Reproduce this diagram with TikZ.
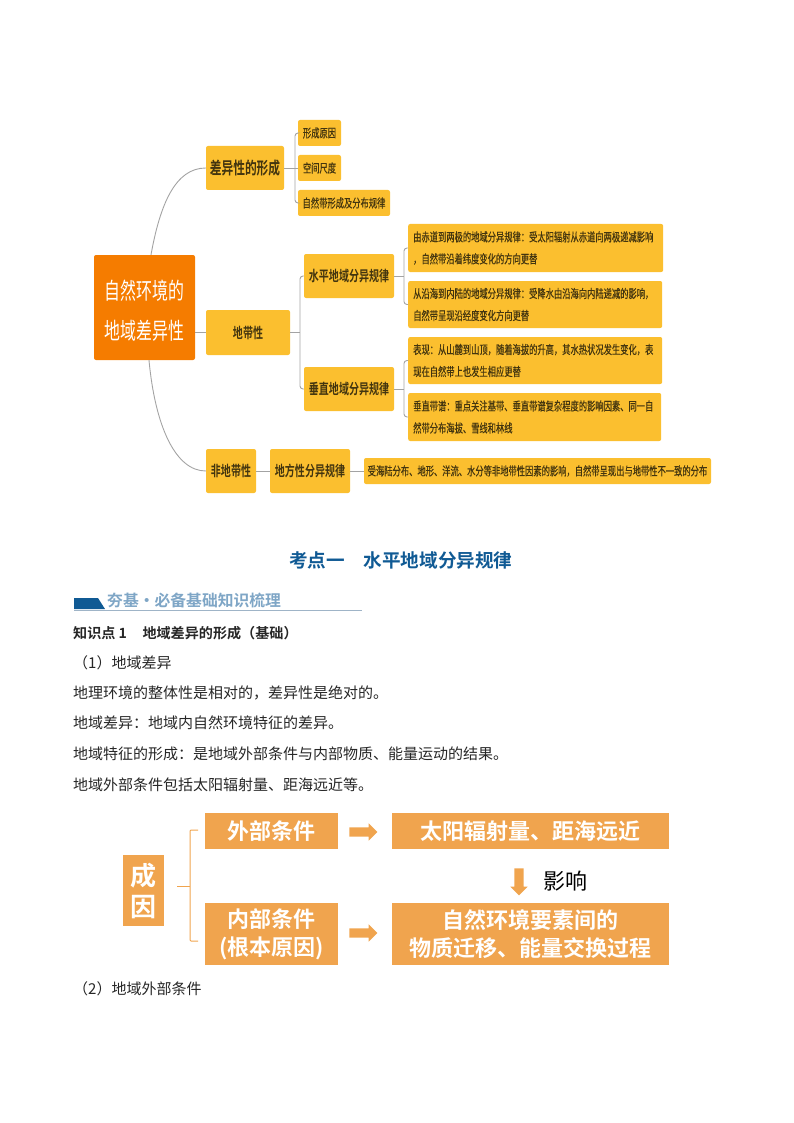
\documentclass[tikz,border=0pt]{standalone}
\usepackage{xcolor}
\usepackage{fontspec}
\usetikzlibrary{shapes.arrows}
\setmainfont{Noto Sans CJK SC}
\newfontfamily\mapfont[FakeStretch=0.69,FakeBold=0.45]{Noto Sans CJK SC}
\newfontfamily\mapbold[FakeStretch=0.69]{Noto Sans CJK SC Bold}
\newfontfamily\rootfont[FakeStretch=0.69]{Noto Sans CJK SC}
\newfontfamily\headfont{Noto Sans CJK SC Bold}
\definecolor{mapyellow}{HTML}{FBBF2F}
\definecolor{maproot}{HTML}{F57C00}
\definecolor{mapink}{HTML}{43350F}
\definecolor{linkgray}{HTML}{A3A3A3}
\definecolor{flowbox}{HTML}{F0A44E}
\definecolor{titleblue}{HTML}{105A94}
\definecolor{bannerblue}{HTML}{7FA6C6}
\definecolor{bannerline}{HTML}{9FB4C7}
\tikzset{
    mapbox/.style={fill=mapyellow, rounded corners=2pt, text=mapink, inner sep=0pt, align=center},
    bigbox/.style={mapbox, font=\mapbold\fontsize{14.5}{16}\selectfont},
    smallbox/.style={mapbox, font=\mapfont\fontsize{12}{22}\selectfont},
    textbox/.style={smallbox, anchor=west, align=left, text width=#1},
    link/.style={draw=linkgray, line width=0.9pt},
    bodyline/.style={anchor=west, inner sep=0pt, font=\fontsize{15}{16}\selectfont, text=black!85},
    flowtext/.style={fill=flowbox, text=white, inner sep=0pt, align=center, font=\headfont\fontsize{22}{28}\selectfont},
    flowarrow/.style={single arrow, fill=flowbox, inner sep=4.5pt, single arrow head extend=4pt, single arrow head indent=0pt},
    flowlink/.style={draw=flowbox, line width=1pt, rounded corners=1pt}
}
\begin{document}
\begin{tikzpicture}[x=1pt, y=-1pt]
    \useasboundingbox (0,0) rectangle (794,1123);

    \node[mapbox, fill=maproot, text=white, minimum width=101pt, minimum height=105pt, font=\rootfont\fontsize{23}{40}\selectfont] (root) at (144.5,307.5) {\rule{0pt}{25pt}自然环境的\\地域差异性};

    \node[bigbox, minimum width=78pt, minimum height=44pt, font=\mapbold\fontsize{17}{19}\selectfont] (diff) at (245,168) {差异性的形成};
    \node[smallbox, minimum width=43pt, minimum height=26pt] (cause) at (319.5,133) {形成原因};
    \node[smallbox, minimum width=43pt, minimum height=26pt] (scale) at (319.5,168) {空间尺度};
    \node[smallbox, minimum width=92pt, minimum height=26pt] (zone) at (344,203) {自然带形成及分布规律};

    \node[bigbox, minimum width=84pt, minimum height=45pt] (belt) at (248,332.5) {地带性};
    \node[bigbox, minimum width=90pt, minimum height=44pt] (horiz) at (349,276) {水平地域分异规律};
    \node[bigbox, minimum width=90pt, minimum height=44pt] (vert) at (349,389) {垂直地域分异规律};

    \node[textbox=245pt, minimum height=48pt, inner xsep=5pt] (lat) at (408,248) {由赤道到两极的地域分异规律：受太阳辐射从赤道向两极递减影响\\，自然带沿着纬度变化的方向更替};
    \node[textbox=244pt, minimum height=47pt, inner xsep=5pt] (lon) at (408,304.5) {从沿海到内陆的地域分异规律：受降水由沿海向内陆递减的影响，\\自然带呈现沿经度变化方向更替};
    \node[textbox=244pt, minimum height=47pt, inner xsep=5pt] (show) at (408,360.5) {表现：从山麓到山顶，随着海拔的升高，其水热状况发生变化，表\\现在自然带上也发生相应更替};
    \node[textbox=243pt, minimum height=48pt, inner xsep=5pt] (spec) at (408,417) {垂直带谱：重点关注基带、垂直带谱复杂程度的影响因素、同一自\\然带分布海拔、雪线和林线};

    \node[bigbox, minimum width=50pt, minimum height=44pt] (nonbelt) at (231,471) {非地带性};
    \node[bigbox, minimum width=80pt, minimum height=44pt] (local) at (310,471) {地方性分异规律};
    \node[smallbox, minimum width=347pt, minimum height=26pt] (far) at (537.5,471) {受海陆分布、地形、洋流、水分等非地带性因素的影响，自然带呈现出与地带性不一致的分布};

    \coordinate (jdiff) at (295,168);
    \coordinate (jbelt) at (300,332.5);
    \coordinate (jhoriz) at (404,276);
    \coordinate (jvert) at (404,389);

    \draw[link] ([xshift=6.5pt]root.north) .. controls (160,205) and (175,168) .. (diff.west);
    \draw[link] ([xshift=4.5pt]root.south) .. controls (155,425) and (175,471) .. (nonbelt.west);
    \draw[link] (root.east |- belt.west) -- (belt.west);
    \draw[link] (diff.east) -- (scale.west);
    \draw[link, rounded corners=3pt] (cause.west) -| (jdiff) |- (zone.west);
    \draw[link] (belt.east) -- (jbelt);
    \draw[link, rounded corners=3pt] (horiz.west) -| (jbelt) |- (vert.west);
    \draw[link] (horiz.east) -- (jhoriz);
    \draw[link, rounded corners=3pt] (lat.west) -| (jhoriz) |- (lon.west);
    \draw[link] (vert.east) -- (jvert);
    \draw[link, rounded corners=3pt] (show.west) -| (jvert) |- (spec.west);
    \draw[link] (nonbelt.east) -- (local.west);
    \draw[link] (local.east) -- (far.west);

    \node[anchor=west, inner sep=0pt, text=titleblue, font=\headfont\fontsize{18.6}{20}\selectfont] (title) at (289,560) {考点一\hspace{1em}水平地域分异规律};
    \fill[titleblue] (74,598) -- (98,598) -- (105,609) -- (74,609) -- cycle;
    \draw[bannerline, line width=0.8pt] (74,610) -- (362,610);
    \node[anchor=west, inner sep=0pt, text=bannerblue, font=\headfont\fontsize{15.8}{18}\selectfont] (banner) at (107,600) {夯基·必备基础知识梳理};

    \node[bodyline, font=\headfont\fontsize{14.1}{16}\selectfont] (point) at (73,633) {知识点 1\hspace{1.1em}地域差异的形成（基础）};
    \node[bodyline] (lineA) at (73,663) {（1）地域差异};
    \node[bodyline] (lineB) at (73,693) {地理环境的整体性是相对的，差异性是绝对的。};
    \node[bodyline] (lineC) at (73,723) {地域差异：地域内自然环境特征的差异。};
    \node[bodyline] (lineD) at (73,754) {地域特征的形成：是地域外部条件与内部物质、能量运动的结果。};
    \node[bodyline] (lineE) at (73,785) {地域外部条件包括太阳辐射量、距海远近等。};
    \node[bodyline] (lineF) at (73,989) {（2）地域外部条件};

    \node[flowtext, minimum width=41pt, minimum height=71pt, font=\headfont\fontsize{26}{31}\selectfont] (reason) at (143.5,890.5) {成\\因};
    \node[flowtext, minimum width=133pt, minimum height=36pt] (outer) at (271.5,831) {外部条件};
    \node[flowtext, minimum width=133pt, minimum height=62pt] (inner) at (271.5,934) {内部条件\\(根本原因)};
    \node[flowtext, minimum width=277pt, minimum height=36pt] (sun) at (530.5,831) {太阳辐射量、距海远近};
    \node[flowtext, minimum width=277pt, minimum height=62pt] (proc) at (530.5,934) {自然环境要素间的\\物质迁移、能量交换过程};

    \node[flowarrow, minimum height=28pt] (arrowA) at (361,832) {};
    \node[flowarrow, minimum height=28pt] (arrowB) at (361,933) {};
    \node[flowarrow, minimum height=27pt, shape border rotate=270] (arrowC) at (519,879.5) {};
    \node[anchor=west, inner sep=0pt, text=black, font=\fontsize{22}{24}\selectfont] (effect) at (543,881) {影响};

    \coordinate (brace) at (177,886);
    \coordinate (braceMid) at (190,886);
    \coordinate (braceTop) at (198,830);
    \coordinate (braceLow) at (198,941);
    \draw[flowlink] (brace) -- (braceMid);
    \draw[flowlink] (braceTop) -| (braceMid) |- (braceLow);
\end{tikzpicture}
\end{document}
